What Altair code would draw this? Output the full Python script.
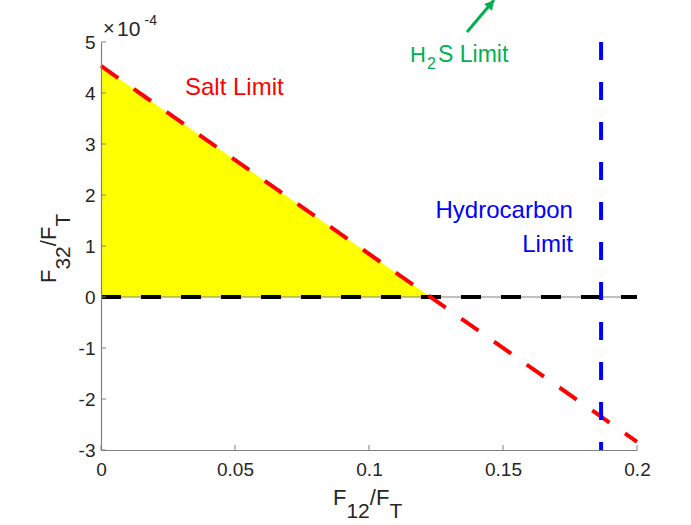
import altair as alt
import pandas as pd

# ---- data ----
x_ticks = [0, 0.05, 0.1, 0.15, 0.2]
y_ticks = [-3, -2, -1, 0, 1, 2, 3, 4, 5]

salt_x = [0.0, 0.2]
salt_y = [4.53, -2.84]

fill_x = [0.0, 0.1229]
fill_y = [4.53, 0.0]

zero_x = [0.0, 0.2]
zero_y = [0.0, 0.0]

hc_x = [0.1866, 0.1866]
hc_y = [5.0, -3.0]

arrow_x = [0.13657, 0.14664]
arrow_y = [5.196, 5.824]
arrow_head_x = [0.14552]
arrow_head_y = [5.745]

W, H = 536, 408
FONT = "Liberation Sans"
GRAY = "#808080"
TXT = "#262626"
RED = "#ff0000"
BLUE = "#0000ff"
GREEN = "#00b04f"

xs = alt.Scale(domain=[0, 0.2], nice=False, zero=False)
ys = alt.Scale(domain=[-3, 5], nice=False, zero=False)


def X(field="x", axis=False):
    if axis:
        return alt.X(f"{field}:Q", scale=xs, title=None,
                     axis=alt.Axis(values=x_ticks, grid=False, tickSize=0,
                                   labelExpr="'' + datum.value",
                                   labelFontSize=19, labelColor=TXT, labelFont=FONT,
                                   labelPadding=10, domainColor=GRAY, domainWidth=1.2,
                                   zindex=1, labelFlush=False))
    return alt.X(f"{field}:Q", scale=xs)


def Y(field="y", axis=False):
    if axis:
        return alt.Y(f"{field}:Q", scale=ys, title=None,
                     axis=alt.Axis(values=y_ticks, grid=False, tickSize=0,
                                   labelExpr="'' + datum.value",
                                   labelFontSize=19, labelColor=TXT, labelFont=FONT,
                                   labelPadding=6, domainColor=GRAY, domainWidth=1.2,
                                   zindex=1, labelFlush=False))
    return alt.Y(f"{field}:Q", scale=ys)


fill_df = pd.DataFrame({"x": fill_x, "y": fill_y, "y0": [0.0, 0.0]})
fill = alt.Chart(fill_df).mark_area(color="#ffff00", opacity=1).encode(
    x=X(axis=True), y=Y(axis=True), y2="y0:Q")

zero_df = pd.DataFrame({"x": zero_x, "y": zero_y})
zero_thin = alt.Chart(zero_df).mark_line(color=GRAY, strokeWidth=1.2).encode(x=X(), y=Y())
zero_dash = alt.Chart(zero_df).mark_line(color="#000000", strokeWidth=4,
                                         strokeDash=[20, 20]).encode(x=X(), y=Y())

salt_df = pd.DataFrame({"x": salt_x, "y": salt_y})
salt = alt.Chart(salt_df).mark_line(color=RED, strokeWidth=4,
                                    strokeDash=[21, 19]).encode(x=X(), y=Y())

hc_df = pd.DataFrame({"x": hc_x, "y": hc_y, "o": [0, 1]})
hc = alt.Chart(hc_df).mark_line(color=BLUE, strokeWidth=4,
                                strokeDash=[18, 22]).encode(
    x=X(), y=Y(), order="o:O")

xt = alt.Chart(pd.DataFrame({"x": x_ticks})).mark_rule(color=GRAY, strokeWidth=1).encode(
    x=X(), y=alt.value(H), y2=alt.value(H - 5))
yt = alt.Chart(pd.DataFrame({"y": y_ticks})).mark_rule(color=GRAY, strokeWidth=1).encode(
    y=Y(), x=alt.value(0), x2=alt.value(5))

arrow_df = pd.DataFrame({"x": arrow_x[:1], "y": arrow_y[:1],
                         "x2": arrow_x[1:], "y2": arrow_y[1:]})
arrow = alt.Chart(arrow_df).mark_rule(color=GREEN, strokeWidth=3).encode(
    x=X(), y=Y(), x2="x2:Q", y2="y2:Q")
head = alt.Chart(pd.DataFrame({"x": arrow_head_x, "y": arrow_head_y})).mark_point(
    shape="triangle-up", filled=True, color=GREEN, size=110, angle=41, opacity=1).encode(
    x=X(), y=Y())

# annotations in data coordinates
ann = pd.DataFrame({
    "x": [0.03134, 0.1761, 0.1761, 0.11530, 0.12575],
    "y": [3.96, 1.55, 0.88, 4.61, 4.61],
    "t": ["Salt Limit", "Hydrocarbon", "Limit", "H", "S Limit"],
    "c": [RED, BLUE, BLUE, GREEN, GREEN],
    "a": ["left", "right", "right", "left", "left"],
    "s": [24, 24, 24, 22, 23],
})
ann_layers = []
for _, r in ann.iterrows():
    ann_layers.append(
        alt.Chart(pd.DataFrame({"x": [r.x], "y": [r.y], "t": [r.t]})).mark_text(
            font=FONT, fontSize=int(r.s), color=r.c, align=r.a, baseline="alphabetic").encode(
            x=X(), y=Y(), text="t:N"))
sub2 = alt.Chart(pd.DataFrame({"x": [0.12164], "y": [4.47], "t": ["2"]})).mark_text(
    font=FONT, fontSize=16, color=GREEN, align="left", baseline="alphabetic").encode(
    x=X(), y=Y(), text="t:N")

one = pd.DataFrame({"a": [0]})


def ptext(t, px, py, size, angle=0, color=TXT):
    return alt.Chart(one).mark_text(text=t, font=FONT, fontSize=size, color=color,
                                    align="left", baseline="alphabetic",
                                    angle=angle).encode(x=alt.value(px), y=alt.value(py))


titles = [
    # x title F_12/F_T
    ptext("F", 232, 463, 22), ptext("12", 245.4, 476, 21),
    ptext("/F", 268.8, 463, 22), ptext("T", 288.4, 476, 21),
    # y title F_32/F_T
    ptext("F", -45, 241, 22, 270), ptext("32", -31, 227.6, 21, 270),
    ptext("/F", -45, 204.2, 22, 270), ptext("T", -31, 184.6, 21, 270),
    # exponent x10^-4
    ptext("×", 2, -7, 20), ptext("10", 16, -6, 21), ptext("-4", 43.5, -17, 14),
]

chart = alt.layer(fill, zero_thin, zero_dash, salt, hc, xt, yt, arrow, head,
                  *ann_layers, sub2, *titles).properties(
    width=W, height=H,
    autosize=alt.AutoSizeParams(type="none"),
    padding={"left": 101, "top": 42, "right": 54, "bottom": 75},
).configure_view(stroke=None)

chart.save("out.html", embed_options={"renderer": "svg", "actions": False})
